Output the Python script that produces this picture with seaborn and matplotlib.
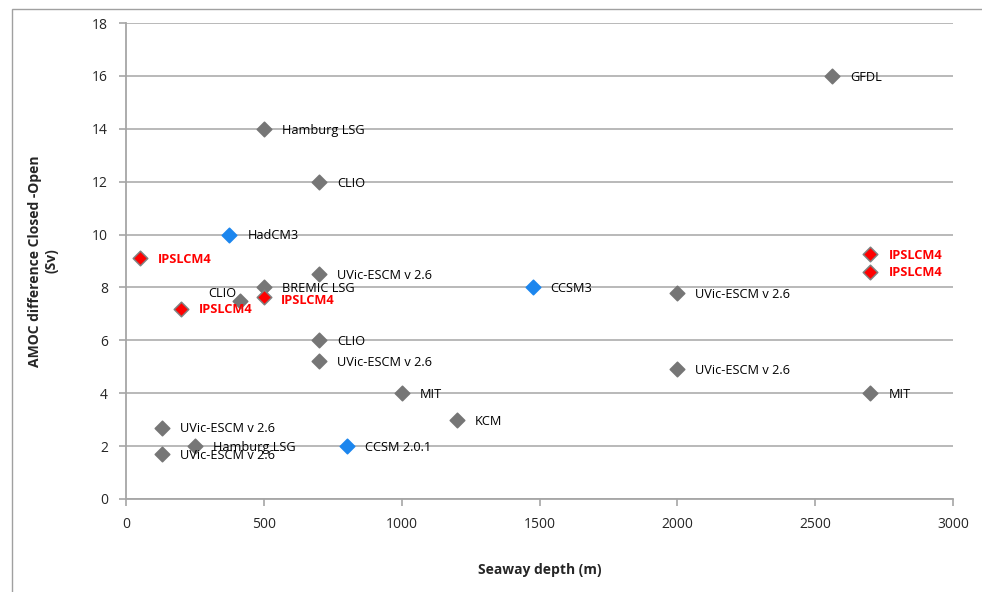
import matplotlib.pyplot as plt
import seaborn as sns
import pandas as pd
from matplotlib.patches import Rectangle

sns.set_theme(style="white")
plt.rcParams['font.family'] = ['Open Sans', 'DejaVu Sans']

# data
models = ["GFDL", "Hamburg LSG", "CLIO", "HadCM3", "IPSLCM4", "UVic-ESCM v 2.6",
          "BREMIC LSG", "CLIO", "IPSLCM4", "IPSLCM4", "CCSM3", "UVic-ESCM v 2.6",
          "IPSLCM4", "IPSLCM4", "CLIO", "UVic-ESCM v 2.6", "UVic-ESCM v 2.6",
          "MIT", "MIT", "KCM", "UVic-ESCM v 2.6", "Hamburg LSG", "CCSM 2.0.1",
          "UVic-ESCM v 2.6"]
depth = [2560, 500, 700, 375, 50, 700,
         500, 415, 500, 200, 1475, 2000,
         2700, 2700, 700, 700, 2000,
         1000, 2700, 1200, 130, 250, 800,
         130]
amoc = [16.0, 14.0, 12.0, 10.0, 9.1, 8.5,
        8.0, 7.5, 7.65, 7.2, 8.0, 7.8,
        9.25, 8.6, 6.0, 5.2, 4.9,
        4.0, 4.0, 3.0, 2.7, 2.0, 2.0,
        1.7]
group = ["grey", "grey", "grey", "blue", "red", "grey",
         "grey", "grey", "red", "red", "blue", "grey",
         "red", "red", "grey", "grey", "grey",
         "grey", "grey", "grey", "grey", "grey", "blue",
         "grey"]

df = pd.DataFrame({"model": models, "depth": depth, "amoc": amoc, "group": group})

palette = {"grey": "#767676", "blue": "#1C86EE", "red": "#FF0000"}
edges = {"grey": "#767676", "blue": "#1C86EE", "red": "#808080"}

fig = plt.figure(figsize=(9.82, 5.92), dpi=100)
ax = fig.add_axes([0.1283, 0.1571, 0.9705 - 0.1283, 0.9611 - 0.1571])

for g in ["grey", "blue", "red"]:
    sub = df[df["group"] == g]
    sns.scatterplot(data=sub, x="depth", y="amoc", color=palette[g], marker="D",
                    s=55, edgecolor=edges[g], linewidth=1.1, ax=ax, zorder=3,
                    legend=False)

# label offsets in points (default: right of marker)
special = {7: (-3, 5, "right"), 8: (12, -3, "left")}
for i, row in df.iterrows():
    dx, dy, ha = special.get(i, (13, -1, "left"))
    red = row["group"] == "red"
    ax.annotate(row["model"], (row["depth"], row["amoc"]), xytext=(dx, dy),
                textcoords="offset points", ha=ha, va="center",
                fontsize=9.2,
                color="#FF0000" if red else "black",
                fontweight="bold" if red else "normal", zorder=4)

ax.set_xlim(0, 3000)
ax.set_ylim(0, 18)
ax.set_xticks(range(0, 3001, 500))
ax.set_yticks(range(0, 19, 2))
ax.yaxis.grid(True, color="#B3B3B3", linewidth=1.3)
ax.set_axisbelow(True)
for s in ["top", "right"]:
    ax.spines[s].set_visible(False)
for s in ["left", "bottom"]:
    ax.spines[s].set_color("#A6A6A6")
    ax.spines[s].set_linewidth(1.3)
ax.tick_params(axis="both", which="both", direction="out", length=5, width=1.2,
               color="#A6A6A6", labelsize=10, pad=8, left=True, bottom=True)
ax.set_xlabel("Seaway depth (m)", fontsize=10, fontweight="bold", labelpad=22)
ax.set_ylabel("AMOC difference Closed -Open\n(Sv)", fontsize=10, fontweight="bold",
              labelpad=24, linespacing=1.2)

# chart area frame
fig.add_artist(Rectangle((12 / 982, -0.1), 1.2, 1.1 - 9 / 592, transform=fig.transFigure,
                         fill=False, edgecolor="#A0A0A0", linewidth=1))

fig.savefig("out.png", dpi=100)
